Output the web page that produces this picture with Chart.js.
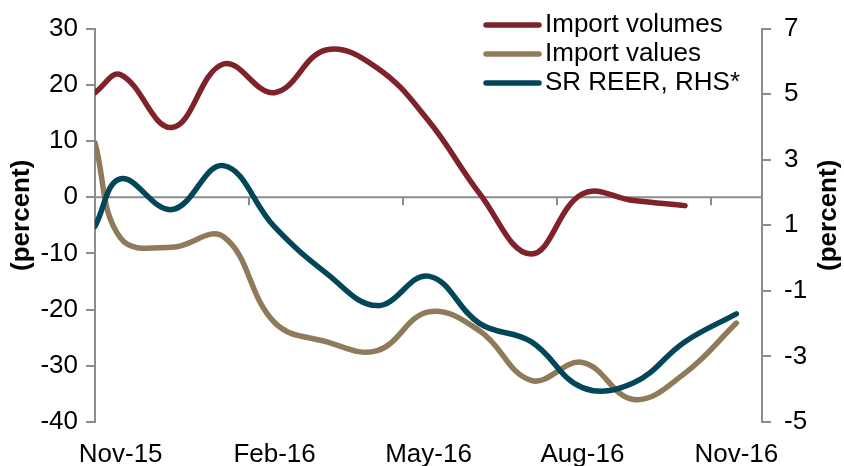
<!DOCTYPE html>
<html>
<head>
<meta charset="utf-8">
<title>Imports vs SR REER</title>
<script src="https://cdn.jsdelivr.net/npm/chart.js@4.4.1/dist/chart.umd.min.js"></script>
<style>
  html, body { margin: 0; padding: 0; background: #ffffff; }
  #wrap { width: 844px; height: 466px; }
</style>
</head>
<body>
<div id="wrap"><canvas id="myChartImports" width="844" height="466"></canvas></div>
<script>
//? Données (mois : 0 = Nov-15, 12 = Nov-16).

const positionsMois = [-0.5, 0, 1, 2, 3, 4, 5, 6, 7, 8, 9, 10, 11, 12];

const importVolumes = [18.6, 21.8, 12.4, 23.7, 18.6, 26.2, 23.0, 13.6, 0.6, -10.1, 0.6, -0.6, -1.5, null];
const importValues = [9.7, -7.3, -8.9, -7.0, -22.3, -25.7, -27.3, -20.4, -23.8, -32.6, -29.4, -36.0, -31.3, -22.4];
const srReer = [0.97, 2.42, 1.48, 2.82, 0.95, -0.45, -1.45, -0.55, -2.0, -2.55, -3.95, -3.8, -2.55, -1.7];

const moisTicks = [0, 3, 6, 9, 12];
const labelsTicks = ["Nov-15", "Feb-16", "May-16", "Aug-16", "Nov-16"];

const legendeLabels = ["Import volumes", "Import values", "SR REER, RHS*"];

//? -------------------------------------------------

const couleurAxe = "#8c8c8c";
const police = "'Liberation Sans', Arial, sans-serif";

Chart.defaults.color = "#000000";
Chart.defaults.font.family = police;
Chart.defaults.font.size = 26;

const toPoints = (valeurs) =>
  valeurs.map((v, i) => ({ x: positionsMois[i], y: v }));

//? Ligne zéro, petits ticks, légende et titres d'axes.

const pluginDecor = {
  id: "decor",
  beforeDatasetsDraw(chart) {
    const { ctx, chartArea, scales } = chart;
    const y0 = scales.y.getPixelForValue(0);
    ctx.save();
    ctx.strokeStyle = couleurAxe;
    ctx.lineWidth = 2;
    ctx.beginPath();
    ctx.moveTo(chartArea.left, y0);
    ctx.lineTo(chartArea.right, y0);
    moisTicks.forEach((m) => {
      const x = Math.round(scales.x.getPixelForValue(m - 0.5));
      ctx.moveTo(x, y0);
      ctx.lineTo(x, y0 + 8);
    });
    ctx.stroke();
    ctx.restore();
  },
  afterDraw(chart) {
    const { ctx, chartArea } = chart;
    ctx.save();

    // légende
    ctx.font = "26px " + police;
    ctx.textBaseline = "middle";
    ctx.textAlign = "left";
    chart.data.datasets.forEach((ds, i) => {
      const y = 25 + i * 29;
      ctx.strokeStyle = ds.borderColor;
      ctx.lineWidth = 5.5;
      ctx.lineCap = "round";
      ctx.beginPath();
      ctx.moveTo(486, y);
      ctx.lineTo(539, y);
      ctx.stroke();
      ctx.fillStyle = "#000000";
      ctx.fillText(legendeLabels[i], 545, y);
    });

    // titres d'axes
    ctx.font = "bold 26px " + police;
    ctx.textAlign = "center";
    const yMilieu = (chartArea.top + chartArea.bottom) / 2 - 10;
    [22, 829].forEach((x) => {
      ctx.save();
      ctx.translate(x, yMilieu);
      ctx.rotate(-Math.PI / 2);
      ctx.fillText("(percent)", 0, 0);
      ctx.restore();
    });

    ctx.restore();
  },
};

//? Construction du graphique.

const ctxImports = document.getElementById("myChartImports").getContext("2d");

new Chart(ctxImports, {
  type: "line",
  data: {
    datasets: [
      {
        label: legendeLabels[0],
        data: toPoints(importVolumes),
        borderColor: "#7f2229",
        yAxisID: "y",
        order: 3,
      },
      {
        label: legendeLabels[1],
        data: toPoints(importValues),
        borderColor: "#8f7b59",
        yAxisID: "y",
        order: 2,
      },
      {
        label: legendeLabels[2],
        data: toPoints(srReer),
        borderColor: "#02465a",
        yAxisID: "y1",
        order: 1,
      },
    ],
  },
  options: {
    responsive: false,
    animation: false,
    devicePixelRatio: 1,
    layout: { padding: { top: 26, left: 0, right: 0, bottom: 0 } },
    elements: {
      line: {
        borderWidth: 5.5,
        tension: 0.4,
        borderCapStyle: "round",
        borderJoinStyle: "round",
        fill: false,
      },
      point: { radius: 0 },
    },
    plugins: {
      legend: { display: false },
      tooltip: { enabled: false },
    },
    scales: {
      x: {
        type: "linear",
        min: -0.5,
        max: 12.5,
        afterBuildTicks: (s) => {
          s.ticks = moisTicks.map((v) => ({ value: v }));
        },
        afterFit: (s) => {
          s.height = 44;
        },
        ticks: {
          autoSkip: false,
          maxRotation: 0,
          padding: 17,
          callback: (v, i) => labelsTicks[i],
        },
        grid: { display: false, drawTicks: false },
        border: { display: false },
      },
      y: {
        position: "left",
        min: -40,
        max: 30,
        afterFit: (s) => {
          s.width = 95;
        },
        ticks: { stepSize: 10, padding: 8 },
        grid: {
          drawOnChartArea: false,
          tickLength: 9,
          color: couleurAxe,
          lineWidth: 2,
        },
        border: { color: couleurAxe, width: 2 },
      },
      y1: {
        position: "right",
        min: -5,
        max: 7,
        afterFit: (s) => {
          s.width = 82;
        },
        ticks: { stepSize: 2, padding: 13 },
        grid: {
          drawOnChartArea: false,
          tickLength: 9,
          color: couleurAxe,
          lineWidth: 2,
        },
        border: { color: couleurAxe, width: 2 },
      },
    },
  },
  plugins: [pluginDecor],
});
</script>
</body>
</html>
